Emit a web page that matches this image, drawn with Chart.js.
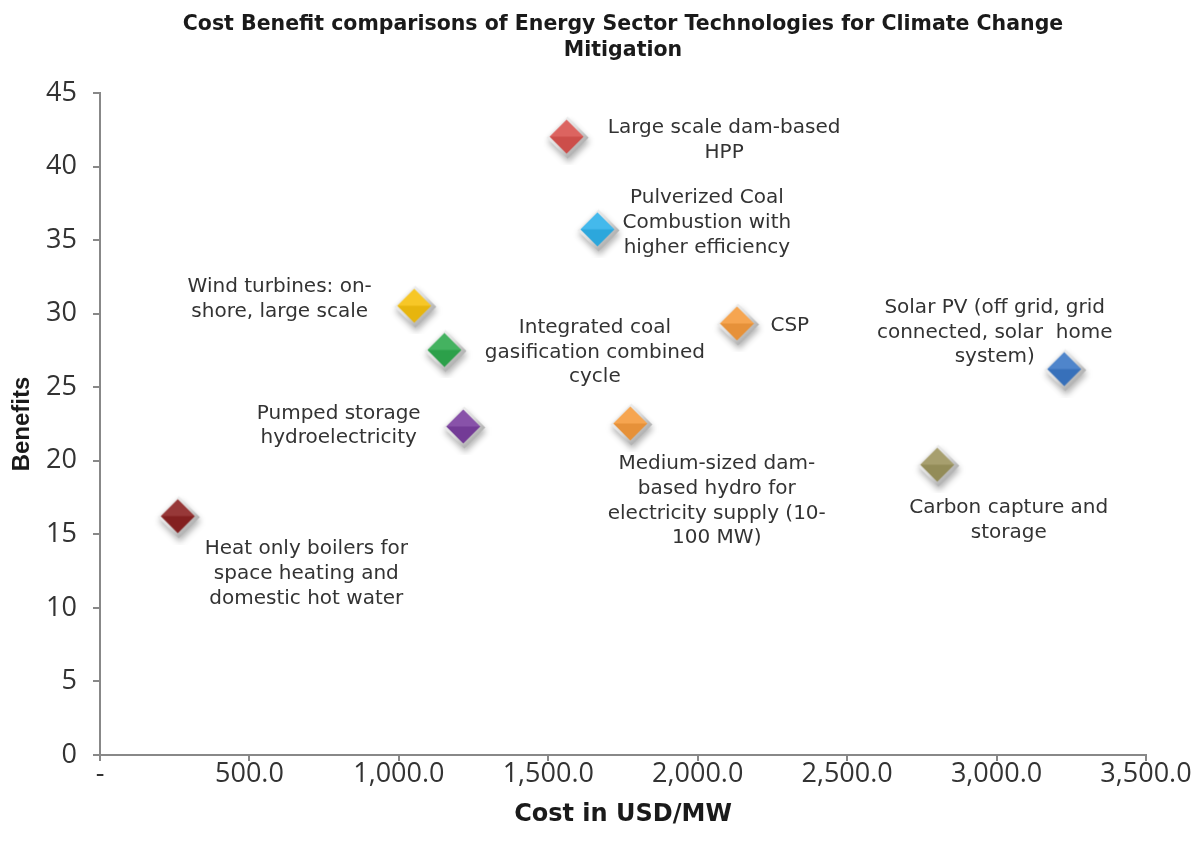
<!DOCTYPE html>
<html>
<head>
<meta charset="utf-8">
<script src="https://cdn.jsdelivr.net/npm/chart.js@4/dist/chart.umd.min.js"></script>
<style>
  html, body { margin: 0; padding: 0; background: #fff; }
  #wrap { width: 1197px; height: 852px; }
</style>
</head>
<body>
<div id="wrap"><canvas id="chart" width="1197" height="852"></canvas></div>
<script>
// --- data ---
const technologies = [
  ['Large scale dam-based', 'HPP'],
  ['Pulverized Coal', 'Combustion with', 'higher efficiency'],
  ['Wind turbines: on-', 'shore, large scale'],
  ['Integrated coal', 'gasification combined', 'cycle'],
  ['CSP'],
  ['Solar PV (off grid, grid', 'connected, solar  home', 'system)'],
  ['Pumped storage', 'hydroelectricity'],
  ['Medium-sized dam-', 'based hydro for', 'electricity supply (10-', '100 MW)'],
  ['Carbon capture and', 'storage'],
  ['Heat only boilers for', 'space heating and', 'domestic hot water']
];
const costUsdPerMw = [1563, 1666, 1053, 1154, 2133, 3228, 1217, 1776, 2803, 262];
const benefits     = [42.0, 35.7, 30.5, 27.5, 29.3, 26.2, 22.3, 22.5, 19.7, 16.2];
const xTicks = [0, 500, 1000, 1500, 2000, 2500, 3000, 3500];
const yTicks = [0, 5, 10, 15, 20, 25, 30, 35, 40, 45];

// --- styling ---
const markerColors = ['#d9534f', '#2fb2ea', '#f6c10f', '#2faa4f', '#f59b3d',
                      '#3b78c6', '#7b3fa0', '#f59b3d', '#9d955e', '#8c2222'];
// label anchor offsets (px from the marker) and text alignment
const labelPlace = [
  { dx: 157, dy: 3, align: 'center' },
  { dx: 109, dy: -7, align: 'center' },
  { dx: -135, dy: -7, align: 'center' },
  { dx: 150, dy: 2, align: 'center' },
  { dx: 33, dy: 2, align: 'left' },
  { dx: -70, dy: -37, align: 'center' },
  { dx: -125, dy: -1, align: 'center' },
  { dx: 86, dy: 77, align: 'center' },
  { dx: 71, dy: 55, align: 'center' },
  { dx: 128, dy: 57, align: 'center' }
];
const LABEL_FONT = '20px "DejaVu Sans", sans-serif';
const LINE_H = 24.7;

function makeDiamond(color) {
  const size = 56;
  const c = document.createElement('canvas');
  c.width = size; c.height = size;
  const g = c.getContext('2d');
  const m = size / 2;
  const diamond = (r, ox, oy) => {
    g.beginPath();
    g.moveTo(m + ox, m - r + oy);
    g.lineTo(m + r + ox, m + oy);
    g.lineTo(m + ox, m + r + oy);
    g.lineTo(m - r + ox, m + oy);
    g.closePath();
  };
  // bevel with soft shadow
  g.save();
  g.shadowColor = 'rgba(0,0,0,0.3)';
  g.shadowBlur = 6;
  g.shadowOffsetX = 1;
  g.shadowOffsetY = 4;
  diamond(21, 0.5, 0.5);
  const bevel = g.createLinearGradient(m - 21, m - 21, m + 21, m + 21);
  bevel.addColorStop(0, '#ffffff');
  bevel.addColorStop(0.5, '#dcdcdc');
  bevel.addColorStop(1, '#8c8c8c');
  g.fillStyle = bevel;
  g.fill();
  g.restore();
  // coloured face
  diamond(17, -0.5, -0.5);
  g.fillStyle = color;
  g.fill();
  // light shading on the upper and lower facets
  g.beginPath();
  g.moveTo(m - 0.5, m - 17.5);
  g.lineTo(m + 16.5, m - 0.5);
  g.lineTo(m - 17.5, m - 0.5);
  g.closePath();
  g.fillStyle = 'rgba(255,255,255,0.10)';
  g.fill();
  g.beginPath();
  g.moveTo(m - 0.5, m + 16.5);
  g.lineTo(m + 16.5, m - 0.5);
  g.lineTo(m - 17.5, m - 0.5);
  g.closePath();
  g.fillStyle = 'rgba(0,0,0,0.06)';
  g.fill();
  return c;
}

const pointLabels = {
  id: 'pointLabels',
  afterDatasetsDraw(chart) {
    const ctx = chart.ctx;
    const meta = chart.getDatasetMeta(0);
    ctx.save();
    ctx.font = LABEL_FONT;
    ctx.fillStyle = '#333333';
    ctx.textBaseline = 'middle';
    meta.data.forEach((pt, i) => {
      const p = labelPlace[i];
      const lines = technologies[i];
      ctx.textAlign = p.align;
      lines.forEach((line, k) => {
        const y = pt.y + p.dy + (k - (lines.length - 1) / 2) * LINE_H;
        ctx.fillText(line, pt.x + p.dx, y);
      });
    });
    ctx.restore();
  }
};

const points = costUsdPerMw.map((x, i) => ({ x: x, y: benefits[i] }));
const tickFont = { family: '"Open Sans", "Noto Sans", sans-serif', size: 27, lineHeight: 1 };

new Chart(document.getElementById('chart'), {
  type: 'scatter',
  data: {
    datasets: [{
      label: 'Technologies',
      data: points,
      pointStyle: markerColors.map(makeDiamond),
      pointRadius: 17,
      pointHoverRadius: 17
    }]
  },
  options: {
    responsive: false,
    animation: false,
    layout: { padding: { left: 0, right: 51, top: 0, bottom: 0 } },
    plugins: {
      legend: { display: false },
      tooltip: { enabled: false },
      title: {
        display: true,
        fullSize: false,
        text: ['Cost Benefit comparisons of Energy Sector Technologies for Climate Change', 'Mitigation'],
        color: '#1a1a1a',
        font: { family: '"DejaVu Sans", sans-serif', size: 20.5, weight: 'bold', lineHeight: 1.3 },
        padding: { top: 11, bottom: 28.7 }
      }
    },
    scales: {
      x: {
        type: 'linear',
        min: 0,
        max: 3500,
        afterBuildTicks: (s) => { s.ticks = xTicks.map(v => ({ value: v })); },
        afterFit: (s) => { s.height = 97; },
        ticks: {
          color: '#333',
          font: tickFont,
          padding: 0,
          maxRotation: 0,
          callback: (v) => v === 0 ? '-' : v.toLocaleString('en-US', { minimumFractionDigits: 1, maximumFractionDigits: 1 })
        },
        grid: { drawOnChartArea: false, color: '#888', tickLength: 6, lineWidth: 2 },
        border: { color: '#888', width: 2 },
        title: {
          display: true,
          text: 'Cost in USD/MW',
          color: '#1a1a1a',
          font: { family: '"DejaVu Sans", sans-serif', size: 24, weight: 'bold', lineHeight: 1.2 },
          padding: { top: 13, bottom: 22.6 }
        }
      },
      y: {
        type: 'linear',
        min: 0,
        max: 45,
        afterBuildTicks: (s) => { s.ticks = yTicks.map(v => ({ value: v })); },
        afterFit: (s) => { s.width = 100; },
        ticks: {
          color: '#333',
          font: tickFont,
          padding: 16
        },
        grid: { drawOnChartArea: false, color: '#888', tickLength: 7, lineWidth: 2 },
        border: { color: '#888', width: 2 },
        title: {
          display: true,
          text: 'Benefits',
          color: '#1a1a1a',
          font: { family: '"Liberation Sans", Arial, sans-serif', size: 24, weight: 'bold', lineHeight: 1.2 },
          padding: { top: 8, bottom: 9 }
        }
      }
    }
  },
  plugins: [pointLabels]
});
</script>
</body>
</html>
